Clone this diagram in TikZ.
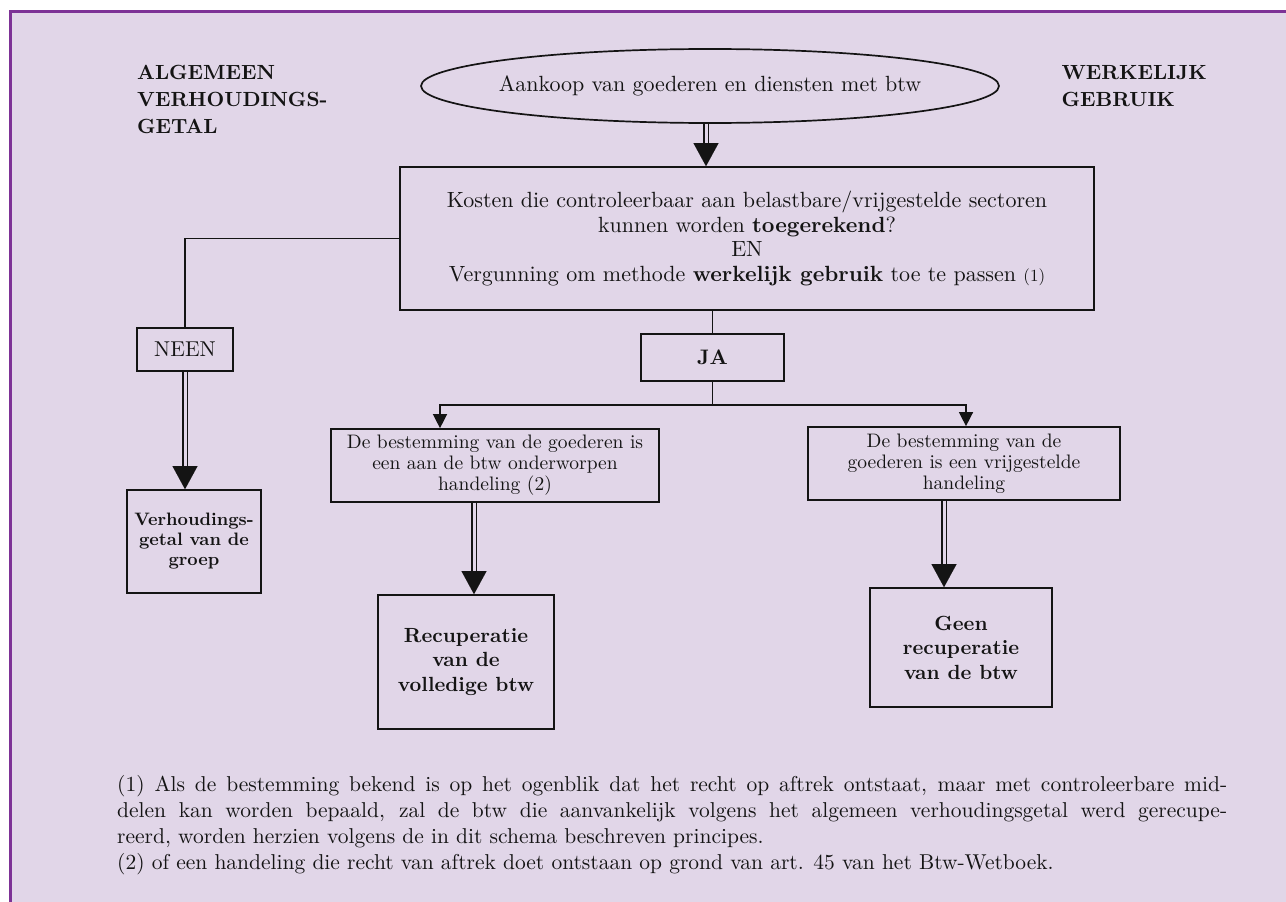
\documentclass[tikz,border=0pt]{standalone}
\usepackage{fontspec}
\setmainfont{lmroman10-regular}[Extension=.otf, BoldFont=lmroman10-bold, ItalicFont=lmroman10-italic, BoldItalicFont=lmroman10-bolditalic]
\usetikzlibrary{shapes.geometric,arrows.meta,calc}
\definecolor{bgfill}{RGB}{225,214,232}
\definecolor{frame}{RGB}{125,50,150}
\definecolor{ink}{RGB}{20,20,20}
\begin{document}
\begin{tikzpicture}[x=1pt,y=-1pt,
  box/.style={draw=ink, line width=1.7pt, inner sep=0pt, align=center, text=ink},
  thinline/.style={draw=ink, line width=1.4pt},
  smallarrow/.style={draw=ink, line width=1.4pt, -{Triangle[width=14pt,length=14pt]}},
  shaft/.style={draw=ink, double=bgfill, double distance=3pt, line width=1.8pt, shorten >=20pt},
  bighead/.style={draw=ink, line width=0.01pt, -{Triangle[width=25pt,length=23pt]}},
  txt/.style={font=\fontsize{22}{24.5}\selectfont},
  subtxt/.style={font=\fontsize{19.5}{21}\selectfont},
  boldtxt/.style={font=\bfseries\fontsize{20.5}{24.5}\selectfont},
  headtxt/.style={font=\bfseries\fontsize{20.5}{27}\selectfont, align=left, inner sep=0pt, text=ink},
]
\useasboundingbox (0,0) rectangle (1286,902);
\fill[bgfill] (10,11) rectangle (1286,902);
\draw[frame, line width=3pt] (10,902) -- (10,11) -- (1286,11);

% headings
\node[headtxt, anchor=north west] (alg) at (137,65) {ALGEMEEN\\VERHOUDINGS-\\GETAL};
\node[headtxt, anchor=north east] (wg) at (1207,65) {WERKELIJK\\GEBRUIK};

% nodes
\node[ellipse, draw=ink, line width=1.7pt, minimum width=578pt, minimum height=74pt, inner sep=0pt] (e) at (710,86) {};
\node[txt, text=ink, inner sep=0pt] (et) at (e.center) {Aankoop van goederen en diensten met btw};
\node[box, txt, minimum width=694pt, minimum height=143pt] (b) at (747,238.5)
  {Kosten die controleerbaar aan belastbare/vrijgestelde sectoren\\
   kunnen worden \textbf{toegerekend}?\\
   EN\\
   Vergunning om methode \textbf{werkelijk gebruik} toe te passen {\fontsize{17}{20}\selectfont(1)}};
\node[box, font=\fontsize{21.5}{24}\selectfont, minimum width=96pt, minimum height=43pt] (neen) at (185,349.5) {NEEN};
\node[box, font=\bfseries\fontsize{21}{24}\selectfont, minimum width=143pt, minimum height=47pt] (ja) at (712.5,357.5) {JA};
\node[box, font=\bfseries\fontsize{18}{20}\selectfont, minimum width=134pt, minimum height=103pt] (verh) at (194,541.5) {Verhoudings-\\getal van de\\groep};
\node[box, subtxt, minimum width=328pt, minimum height=73pt] (ls) at (495,465.5) {De bestemming van de goederen is\\een aan de btw onderworpen\\handeling (2)};
\node[box, subtxt, minimum width=312pt, minimum height=73pt] (rs) at (964,463.5) {De bestemming van de\\goederen is een vrijgestelde\\handeling};
\node[box, boldtxt, minimum width=176pt, minimum height=134pt] (rec) at (466,662) {Recuperatie\\van de\\volledige btw};
\node[box, boldtxt, minimum width=182pt, minimum height=119pt] (geen) at (961,647.5) {Geen\\recuperatie\\van de btw};

% footnotes
\node[anchor=north west, align=left, inner sep=0pt, text=ink, font=\fontsize{21.5}{26}\selectfont] (fn) at (117,775)
 {\spaceskip=0pt\xspaceskip=0pt
  \hbox to 1110pt{(1) Als de bestemming bekend is op het ogenblik dat het recht op aftrek ontstaat, maar met controleerbare mid-}\\
  \hbox to 1110pt{delen kan worden bepaald, zal de btw die aanvankelijk volgens het algemeen verhoudingsgetal werd gerecupe-}\\
  reerd, worden herzien volgens de in dit schema beschreven principes.\\
  (2) of een handeling die recht van aftrek doet ontstaan op grond van art. 45 van het Btw-Wetboek.};

% connectors
\coordinate (etop) at (706,123);
\draw[shaft] (e.south -| etop) -- (etop |- b.north);
\draw[bighead] ($(etop |- b.north)+(0,-23)$) -- (etop |- b.north);

\draw[thinline] (b.west) -| (neen.north);
\draw[shaft] (neen.south) -- (neen.south |- verh.north);
\draw[bighead] ($(neen.south |- verh.north)+(0,-23)$) -- (neen.south |- verh.north);

\draw[thinline] (ja.north |- b.south) -- (ja.north);
\coordinate (brl) at (440,405);
\coordinate (brr) at (966,405);
\draw[thinline] (ja.south) -- (ja.south |- brl);
\draw[smallarrow] (ja.south |- brl) -- (brl) -- (brl |- ls.north);
\draw[smallarrow] (ja.south |- brr) -- (brr) -- (brr |- rs.north);

\draw[shaft] ([xshift=8pt]rec.north |- ls.south) -- ([xshift=8pt]rec.north);
\draw[bighead] ($([xshift=8pt]rec.north)+(0,-23)$) -- ([xshift=8pt]rec.north);
\draw[shaft] ([xshift=-17pt]geen.north |- rs.south) -- ([xshift=-17pt]geen.north);
\draw[bighead] ($([xshift=-17pt]geen.north)+(0,-23)$) -- ([xshift=-17pt]geen.north);
\end{tikzpicture}
\end{document}
